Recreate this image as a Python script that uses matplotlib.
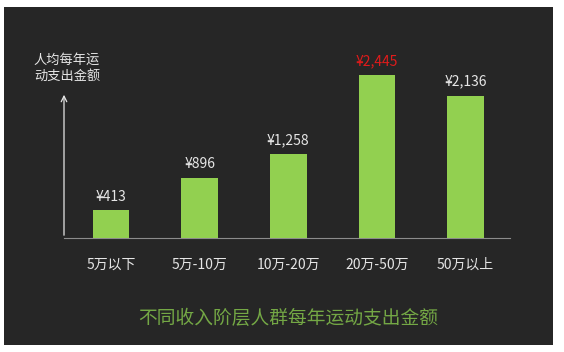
import matplotlib
matplotlib.use('Agg')
import matplotlib.pyplot as plt
from matplotlib.patches import Rectangle

plt.rcParams['font.family'] = ['Noto Sans CJK SC', 'DejaVu Sans']

categories = ['5万以下', '5万-10万', '10万-20万', '20万-50万', '50万以上']
spending = [413, 896, 1258, 2445, 2136]
value_labels = ['¥413', '¥896', '¥1,258', '¥2,445', '¥2,136']
highlight = 3  # the red one

bg = '#262626'
bar_color = '#92d050'
text_color = '#e6e6e6'

fig = plt.figure(figsize=(5.64, 3.52), dpi=100)
fig.patch.set_facecolor('white')
# dark panel behind the chart
fig.patches.append(Rectangle((4 / 564, 7 / 352), 549 / 564, 338 / 352,
                             transform=fig.transFigure, facecolor=bg,
                             edgecolor='none', zorder=-5))

ax = fig.add_axes([64 / 564, 114 / 352, 446 / 564, 198 / 352])
ax.set_zorder(2)
ax.set_facecolor('none')
x = list(range(len(categories)))
ax.bar(x, spending, width=0.41, color=bar_color, zorder=3)
ax.set_xlim(-0.53, 4.5)
ax.set_ylim(0, 2970)

for i, (v, lab) in enumerate(zip(spending, value_labels)):
    c = '#e01b1b' if i == highlight else text_color
    ax.annotate(lab, (i, v), xytext=(0, 5), textcoords='offset points',
                ha='center', va='bottom', fontsize=10, color=c)

for s in ['top', 'right', 'left']:
    ax.spines[s].set_visible(False)
ax.spines['bottom'].set_color('#8c8c8c')
ax.spines['bottom'].set_linewidth(0.8)
ax.set_yticks([])
ax.set_xticks(x)
ax.set_xticklabels(categories, fontsize=10, color=text_color)
ax.tick_params(axis='x', length=0, pad=14)

# vertical axis with arrow
ax.annotate('', xy=(-0.53, 2190), xytext=(-0.53, 0),
            arrowprops=dict(arrowstyle='->', color=text_color, lw=0.9,
                            mutation_scale=10))

fig.text(67 / 564, 1 - 68 / 352, '人均每年运\n动支出金额', ha='center', va='center',
         fontsize=9.5, color=text_color, linespacing=1.3, zorder=3)

fig.text(288 / 564, 1 - 318 / 352, '不同收入阶层人群每年运动支出金额', ha='center',
         va='center', fontsize=13.5, color='#74a845', zorder=3)

fig.savefig('out.png', dpi=100, facecolor=fig.get_facecolor())
